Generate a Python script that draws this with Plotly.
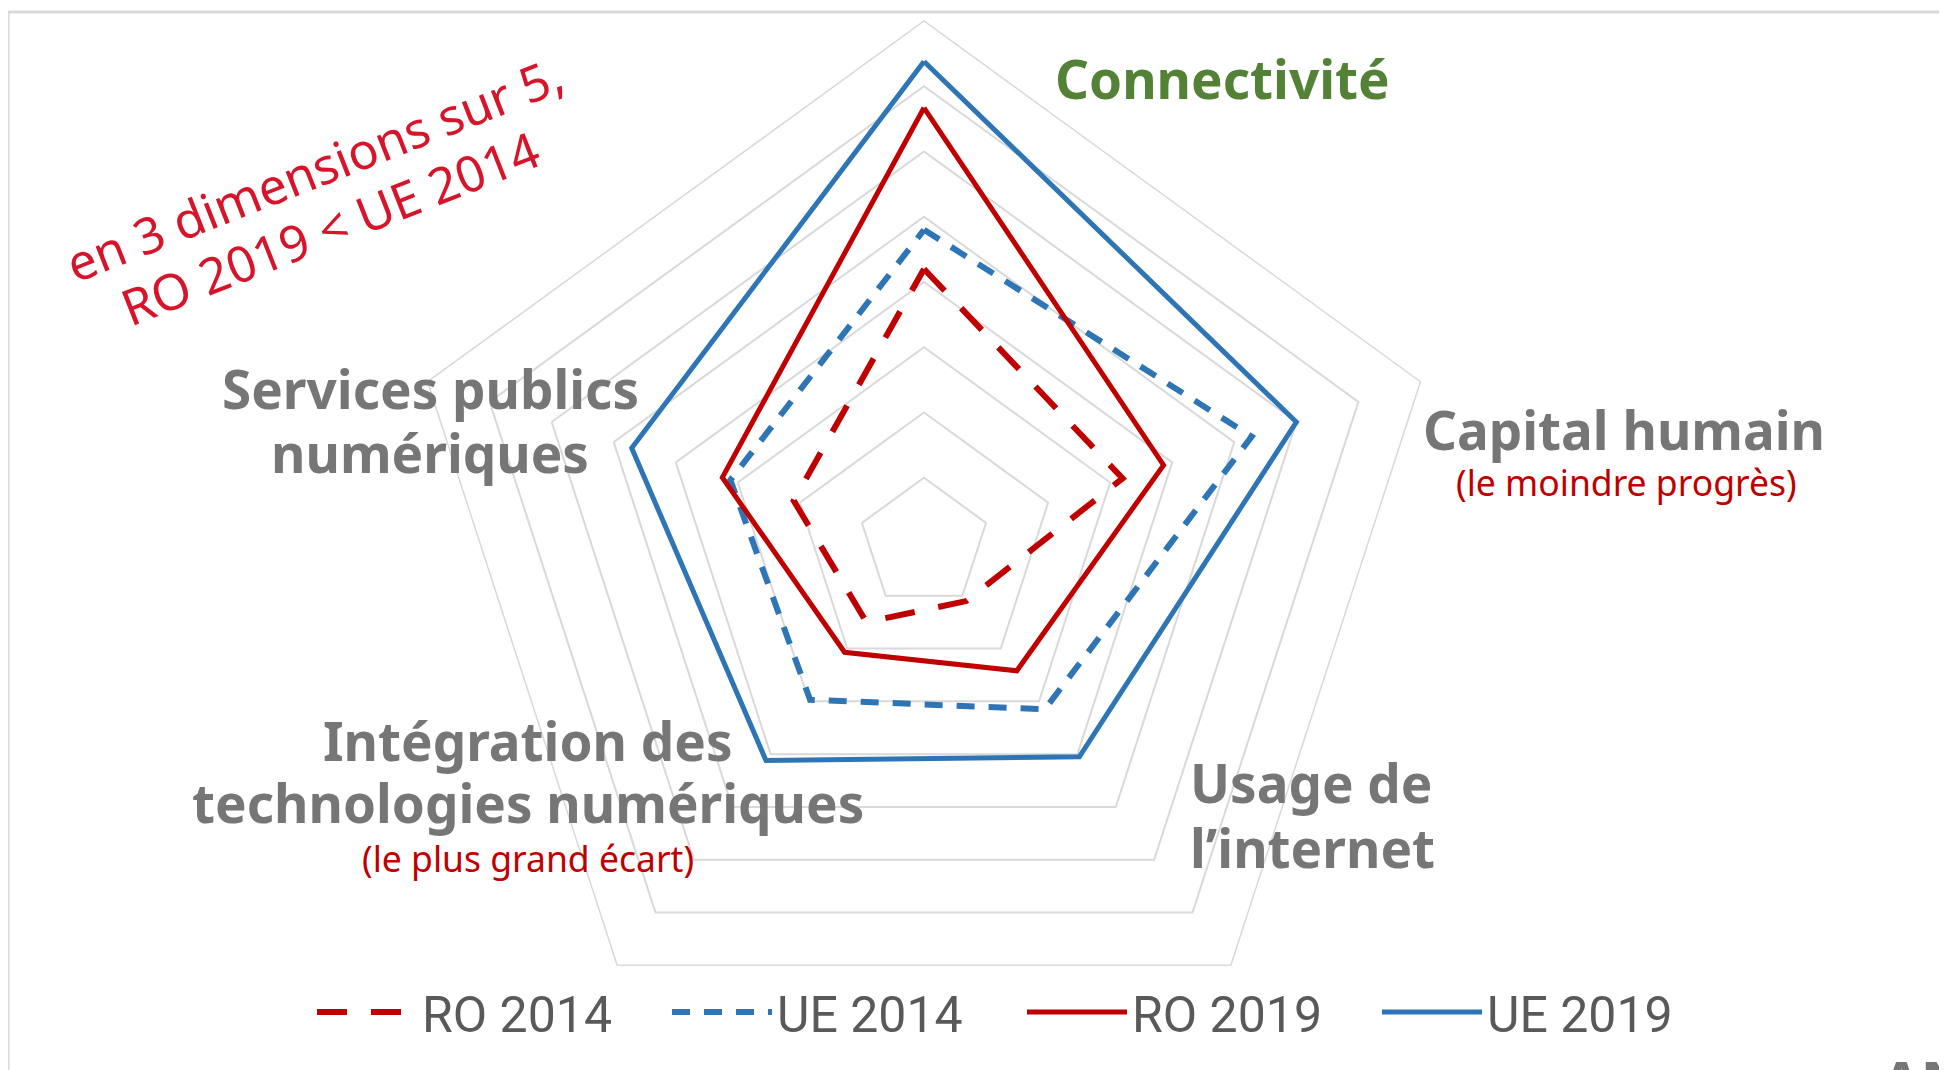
import plotly.graph_objects as go

# page pixels; the figure div sits 8 px in from the top-left of the page
PAGE_W, PAGE_H = 1947, 1070
OFF = 8
W, H = PAGE_W - OFF, PAGE_H - OFF

categories = ["Connectivité", "Capital humain", "Usage de l’internet",
              "Intégration des technologies numériques", "Services publics numériques"]
ro_2014 = [42, 32, 11, 15, 21]
ue_2014 = [48, 52.8, 31.5, 29.7, 31.2]
ro_2019 = [66.7, 38.6, 24.2, 20.7, 32.5]
ue_2019 = [73.8, 60, 40.5, 41.2, 47.1]
series_names = ["RO 2014", "UE 2014", "RO 2019", "UE 2019"]

RED = "#c00000"
BLUE = "#2e75b6"
GRID = "#d9d9d9"
LABEL = "#767676"

def closed(v):
    return list(v) + [v[0]]

theta = closed(categories)

fig = go.Figure()
styles = [
    (ro_2014, RED, 6, "30px,24px"),
    (ue_2014, BLUE, 6, "18px,14px"),
    (ro_2019, RED, 5, "solid"),
    (ue_2019, BLUE, 5, "solid"),
]
for name, (vals, col, w, dash) in zip(series_names, styles):
    fig.add_trace(go.Scatterpolar(
        r=closed(vals), theta=theta, mode="lines", name=name,
        line=dict(color=col, width=w, dash=dash), hoverinfo="skip"))

def px_x(x):
    return (x - OFF) / W

def px_y(y):
    return (H - (y - OFF)) / H

cx, cy, R = 924, 543, 522

fig.update_layout(
    width=W, height=H,
    margin=dict(l=0, r=0, t=0, b=0),
    paper_bgcolor="white",
    polar=dict(
        domain=dict(x=[px_x(cx - R), px_x(cx + R)], y=[px_y(cy + R), px_y(cy - R)]),
        gridshape="linear",
        bgcolor="white",
        radialaxis=dict(range=[0, 80], dtick=10, showticklabels=False, ticks="",
                        showline=False, gridcolor=GRID, gridwidth=1.5),
        angularaxis=dict(rotation=90, direction="clockwise", showticklabels=False,
                         ticks="", showgrid=False, showline=True,
                         linecolor=GRID, linewidth=1.5),
    ),
    showlegend=True,
    legend=dict(orientation="h", x=px_x(312), xanchor="left", y=px_y(1012), yanchor="middle",
                font=dict(family="Roboto", size=50, color="#595959"),
                itemwidth=100, entrywidth=240, entrywidthmode="pixels",
                bgcolor="rgba(0,0,0,0)"),
)

bold = dict(family="Noto Sans", size=53, color=LABEL, weight="bold")
sub = dict(family="Noto Sans", size=35.5, color=RED)
note = dict(family="Noto Sans", size=50, color="#d7152a")

def ann(text, x, y, font, **kw):
    fig.add_annotation(text=text, x=px_x(x), y=px_y(y), xref="paper", yref="paper",
                       showarrow=False, font=font, xanchor=kw.pop("xanchor", "center"),
                       yanchor=kw.pop("yanchor", "middle"), **kw)

ann("<b>Connectivité</b>", 1222, 78, dict(bold, color="#538135"))
ann("<b>Capital humain</b>", 1624, 429, bold)
ann("(le moindre progrès)", 1626, 482, sub)
ann("<b>Usage de</b>", 1188, 782, bold, xanchor="left")
ann("<b>l’internet</b>", 1188, 847, bold, xanchor="left")
ann("<b>Intégration des</b>", 528, 740, bold)
ann("<b>technologies numériques</b>", 528, 803, bold)
ann("(le plus grand écart)", 528, 858, sub)
ann("<b>Services publics</b>", 430, 389, bold)
ann("<b>numériques</b>", 430, 452, bold)
ann("en 3 dimensions sur 5,", 314, 169, note, textangle=-21.5)
ann("RO 2019 &lt; UE 2014", 330, 228, note, textangle=-21.5)
ann("<b>AN</b>", 1880, 1040, dict(bold, size=56), xanchor="left", yanchor="top")

fig.add_shape(type="rect", xref="paper", yref="paper",
              x0=px_x(8), x1=1.05, y0=-0.05, y1=px_y(12),
              line=dict(color=GRID, width=3), fillcolor="rgba(0,0,0,0)", layer="below")

fig.write_html("out.html")
